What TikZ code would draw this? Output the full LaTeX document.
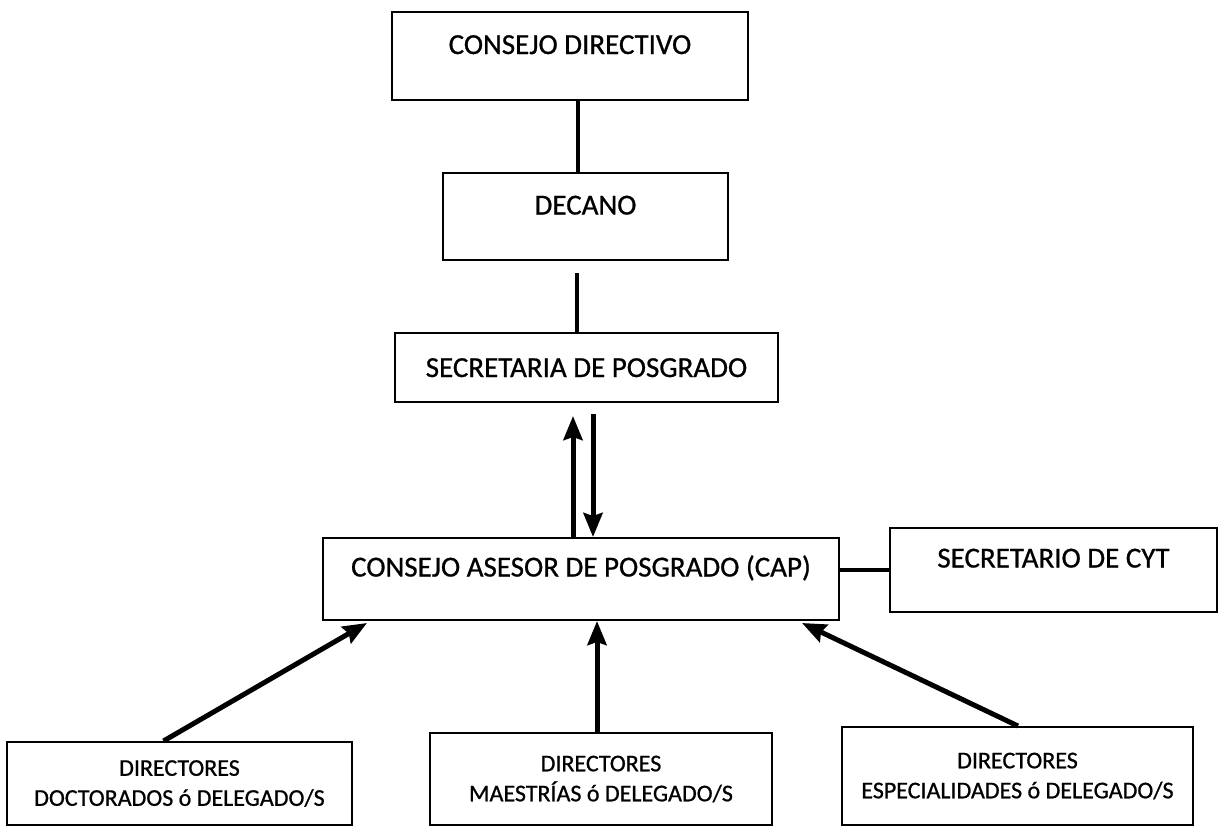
\documentclass[tikz,border=0pt]{standalone}
\usepackage{fontspec}
\setmainfont{Carlito}[FakeBold=0.8]
\usetikzlibrary{arrows.meta,calc}
\begin{document}
\begin{tikzpicture}[x=1pt,y=-1pt,
  box/.style={draw=black,line width=2pt,rectangle,inner sep=0pt,align=center,
    font=\fontsize{29}{34}\selectfont},
  smallbox/.style={box,font=\fontsize{24}{30}\selectfont},
  link/.style={line width=4.5pt},
  arr/.style={line width=5pt,-{Stealth[length=24pt,width=19pt,inset=3pt]}}]
\useasboundingbox (0,0) rectangle (1221,827);
\fill[white] (0,0) rectangle (1221,827);
\node[box,minimum width=356pt,minimum height=88pt,text height=19pt,text depth=23pt] (cd) at (570,56) {CONSEJO DIRECTIVO};
\node[box,minimum width=285pt,minimum height=87pt,text height=19pt,text depth=23pt] (dec) at (585.5,216.5) {DECANO};
\node[box,minimum width=383pt,minimum height=69pt,text height=19pt,text depth=0pt] (sec) at (586.5,367.5) {SECRETARIA DE POSGRADO};
\node[box,minimum width=516pt,minimum height=82pt,text height=19pt,text depth=24pt] (cap) at (581,579) {CONSEJO ASESOR DE POSGRADO (CAP)};
\node[box,minimum width=327pt,minimum height=84pt,text height=19pt,text depth=24pt] (cyt) at (1053.5,570) {SECRETARIO DE CYT};
\node[smallbox,minimum width=345pt,minimum height=83pt] (doc) at (179.5,783.5) {DIRECTORES\\DOCTORADOS ó DELEGADO/S};
\node[smallbox,minimum width=342pt,minimum height=92pt] (mae) at (601,779) {DIRECTORES\\MAESTRÍAS ó DELEGADO/S};
\node[smallbox,minimum width=351pt,minimum height=98pt] (esp) at (1017.5,776) {DIRECTORES\\ESPECIALIDADES ó DELEGADO/S};
% plain links
\draw[link] ($(cd.south)+(8,0)$) -- ($(dec.north)+(-7.5,0)$);
\draw[link] ($(dec.south)+(-8.5,12)$) -- ($(sec.north)+(-9.5,0)$);
\draw[link] (cyt.west -| cap.east) -- (cyt.west);
% arrows between CAP and Secretaria
\draw[arr] ($(cap.north)+(-8,0)$) -- ($(sec.south)+(-13.5,13)$);
\draw[arr] ($(sec.south)+(6.5,11)$) -- ($(cap.north)+(12,0)$);
% arrows from directors
\draw[arr] ($(doc.north)+(-16,0)$) -- ($(cap.south)+(-214,2)$);
\draw[arr] ($(mae.north)+(-4,0)$) -- ($(cap.south)+(16,0)$);
\draw[arr] ($(esp.north)+(0.5,0)$) -- ($(cap.south)+(221,2)$);
\end{tikzpicture}
\end{document}
